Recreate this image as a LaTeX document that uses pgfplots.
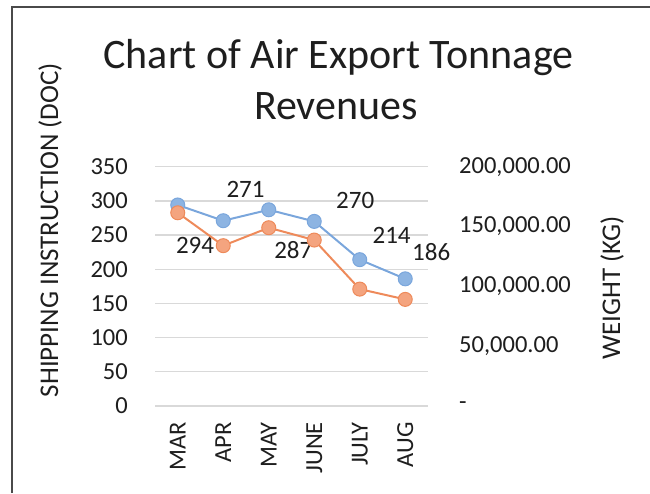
\documentclass[border=0pt]{standalone}
\usepackage{pgfplots}
\pgfplotsset{compat=1.18}
\usepackage{fontspec}
\setmainfont{Carlito}
\definecolor{blline}{HTML}{7AA6DC}
\definecolor{blfill}{HTML}{8DB4E2}
\definecolor{orline}{HTML}{EE8A5A}
\definecolor{orfill}{HTML}{F4A47F}
\definecolor{gridc}{HTML}{D9D9D9}
\definecolor{txt}{HTML}{1E1E1E}
\definecolor{borderc}{HTML}{4A4A4A}
\begin{document}
\begin{tikzpicture}[x=1pt,y=1pt]
\path[use as bounding box] (0,0) rectangle (650,493);
\draw[color=borderc, line width=2.2pt] (12,0) -- (12,486) -- (650,486);
\begin{axis}[
  at={(155pt,87pt)}, anchor=south west, scale only axis,
  width=273pt, height=239.3pt,
  xmin=-0.5, xmax=5.5, ymin=0, ymax=350,
  xtick={0,1,2,3,4,5}, xticklabels={MAR,APR,MAY,JUNE,JULY,AUG},
  ytick={0,50,100,150,200,250,300,350},
  yticklabels={0,50,100,150,200,250,300,350},
  ymajorgrids, grid style={color=gridc, line width=1.3pt},
  axis line style={draw=none}, major tick length=0pt,
  /pgf/number format/assume math mode=true,
  tick label style={font=\fontsize{24.5}{24.5}\selectfont, text=txt},
  xticklabel style={rotate=90, anchor=east, inner sep=0pt},
  xticklabel shift=16pt,
  yticklabel style={anchor=east, inner sep=0pt},
  yticklabel shift=27pt,
  clip=false,
]
\addplot[color=blline, line width=2pt, mark=*, mark size=7pt,
  mark options={fill=blfill, draw=blline, line width=1pt}]
  coordinates {(0,294) (1,271) (2,287) (3,270) (4,214) (5,186)};
\node[font=\fontsize{25}{25}\selectfont, text=txt] at (axis cs:0.38,235.5) {294};
\node[font=\fontsize{25}{25}\selectfont, text=txt] at (axis cs:1.49,317) {271};
\node[font=\fontsize{25}{25}\selectfont, text=txt] at (axis cs:2.54,228) {287};
\node[font=\fontsize{25}{25}\selectfont, text=txt] at (axis cs:3.9,301) {270};
\node[font=\fontsize{25}{25}\selectfont, text=txt] at (axis cs:4.7,250) {214};
\node[font=\fontsize{25}{25}\selectfont, text=txt] at (axis cs:5.57,225) {186};
\end{axis}
\begin{axis}[
  at={(155pt,87pt)}, anchor=south west, scale only axis,
  width=273pt, height=239.3pt,
  xmin=-0.5, xmax=5.5, ymin=0, ymax=200000,
  axis x line=none, axis y line*=right,
  ytick={0,50000,100000,150000,200000},
  yticklabels={{-},{50,000.00},{100,000.00},{150,000.00},{200,000.00}},
  scaled y ticks=false,
  axis line style={draw=none}, major tick length=0pt,
  /pgf/number format/assume math mode=true,
  tick label style={font=\fontsize{24.5}{24.5}\selectfont, text=txt},
  yticklabel style={anchor=west, inner sep=0pt},
  yticklabel shift=31pt,
  clip=false,
]
\addplot[color=orline, line width=2pt, mark=*, mark size=7pt,
  mark options={fill=orfill, draw=orline, line width=1pt}]
  coordinates {(0,161500) (1,134000) (2,149000) (3,138700) (4,97700) (5,89100)};
\end{axis}
\node[anchor=base, font=\fontsize{42}{42}\selectfont, text=txt, inner sep=0pt] at (338.5,424) {Chart of Air Export Tonnage};
\node[anchor=base, font=\fontsize{42}{42}\selectfont, text=txt, inner sep=0pt] at (336,373) {Revenues};
\node[rotate=90, font=\fontsize{27}{27}\selectfont, text=txt] at (50,263) {SHIPPING INSTRUCTION (DOC)};
\node[rotate=90, font=\fontsize{27}{27}\selectfont, text=txt] at (612,205) {WEIGHT (KG)};
\end{tikzpicture}
\end{document}
